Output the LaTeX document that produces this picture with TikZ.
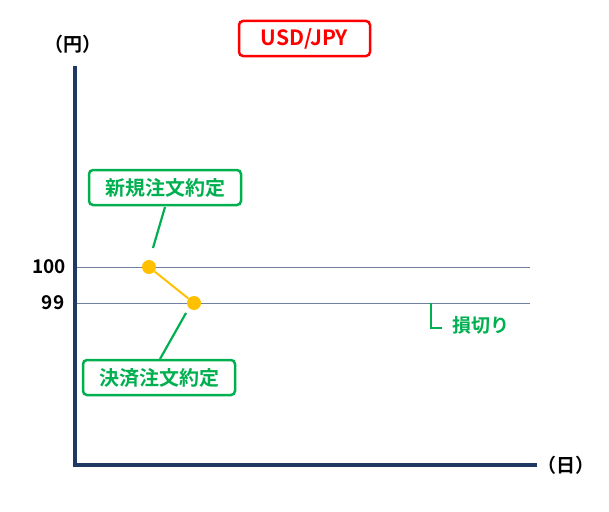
\documentclass[tikz,border=0pt]{standalone}
\usepackage{fontspec}
\setmainfont{Noto Sans CJK JP}[BoldFont={* Bold}]
\begin{document}
\begin{tikzpicture}[x=1pt,y=-1pt,
  gbox/.style={draw=gcol, line width=2.5pt, rounded corners=4pt, text=gcol, font=\bfseries\fontsize{20}{22}\selectfont, minimum width=152pt, minimum height=35pt, inner sep=0pt},
  leader/.style={draw=gcol, line width=2.2pt},
  lvl/.style={draw=lcol, line width=0.6pt},
  dot/.style={circle, fill=ycol, minimum size=14pt, inner sep=0pt},
  lab/.style={font=\bfseries\fontsize{19}{21}\selectfont, text=black}]
\definecolor{gcol}{HTML}{00B050}
\definecolor{lcol}{HTML}{7080A0}
\definecolor{ycol}{HTML}{FFC000}
\definecolor{ncol}{HTML}{1F3864}
\definecolor{rcol}{HTML}{FF0000}
\useasboundingbox (0,0) rectangle (609,511);
\coordinate (top) at (75,66);
\coordinate (org) at (75,465);
\coordinate (xend) at (537,465);
\draw[ncol, line width=4pt] (top) -- (org) -- (xend);
\coordinate (l1a) at (77,267); \coordinate (l1b) at (530,267);
\coordinate (l2a) at (77,303); \coordinate (l2b) at (530,303);
\draw[lvl] (l1a) -- (l1b);
\draw[lvl] (l2a) -- (l2b);
\node[dot] (p1) at (149,267) {};
\node[dot] (p2) at (194,303) {};
\draw[ycol, line width=2pt] (p1) -- (p2);
\node[gbox] (b1) at (165,187.5) {新規注文約定};
\node[gbox] (b2) at (159,377.5) {決済注文約定};
\coordinate (s1) at (165,207);
\coordinate (e1) at (153,248);
\coordinate (s2) at (160,359);
\coordinate (e2) at (186,313);
\draw[leader] (s1) -- (e1);
\draw[leader] (s2) -- (e2);
\coordinate (k1) at (431,303);
\coordinate (k2) at (431,328);
\coordinate (k3) at (442,328);
\draw[gcol, line width=2.2pt] (k1) -- (k2) -- (k3);
\node[text=gcol, font=\bfseries\fontsize{19}{21}\selectfont, anchor=west] (sk) at (449,325) {損切り};
\node[lab] (v100) at (49,267) {100};
\node[lab] (v99) at (53,303) {99};
\node[lab] (yen) at (73,44) {（円）};
\node[lab] (day) at (566,465) {（日）};
\node[draw=rcol, line width=2.5pt, rounded corners=4pt, text=rcol, font=\bfseries\fontsize{21}{23}\selectfont, minimum width=131pt, minimum height=35pt, inner sep=0pt] (t) at (304.5,38.5) {USD/JPY};
\end{tikzpicture}
\end{document}
